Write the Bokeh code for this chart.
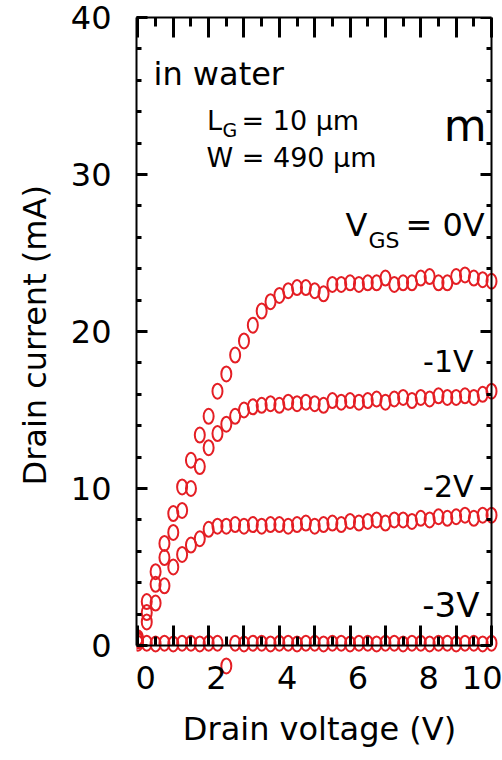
from bokeh.plotting import figure
from bokeh.models import (Range1d, LinearAxis, FixedTicker, Label, Title,
                          ColumnDataSource, CustomJSTickFormatter)
from bokeh.embed import file_html
from bokeh.resources import INLINE

# ---------------- data ----------------
drain_voltage = [0.0, 0.25, 0.5, 0.75, 1.0, 1.25, 1.5, 1.75, 2.0, 2.25,
                 2.5, 2.75, 3.0, 3.25, 3.5, 3.75, 4.0, 4.25, 4.5, 4.75,
                 5.0, 5.25, 5.5, 5.75, 6.0, 6.25, 6.5, 6.75, 7.0, 7.25,
                 7.5, 7.75, 8.0, 8.25, 8.5, 8.75, 9.0, 9.25, 9.5, 9.75, 10.0]

current_vgs_0 = [0.5, 2.8, 4.7, 6.5, 8.4, 10.1, 11.8, 13.4, 14.6, 16.2,
                 17.3, 18.5, 19.4, 20.4, 21.3, 21.9, 22.3, 22.6, 22.8, 22.8,
                 22.6, 22.4, 23.0, 23.0, 23.1, 23.0, 23.1, 23.1, 23.4, 23.0,
                 23.1, 23.1, 23.4, 23.5, 23.1, 23.1, 23.5, 23.6, 23.4, 23.3, 23.2]

current_vgs_m1 = [0.4, 2.1, 3.9, 5.6, 7.2, 8.6, 10.0, 11.4, 12.6, 13.5,
                  14.1, 14.6, 15.0, 15.2, 15.3, 15.4, 15.3, 15.5, 15.4, 15.5,
                  15.4, 15.3, 15.6, 15.5, 15.6, 15.5, 15.6, 15.7, 15.5, 15.7,
                  15.8, 15.6, 15.8, 15.7, 15.9, 15.8, 15.8, 15.9, 15.8, 16.0, 16.2]

current_vgs_m2 = [0.3, 1.5, 2.7, 3.8, 5.0, 5.8, 6.4, 6.8, 7.4, 7.6,
                  7.6, 7.7, 7.6, 7.7, 7.6, 7.7, 7.7, 7.6, 7.7, 7.8,
                  7.6, 7.7, 7.8, 7.7, 7.9, 7.8, 7.9, 8.0, 7.8, 8.0,
                  8.0, 7.9, 8.1, 8.0, 8.2, 8.1, 8.2, 8.3, 8.1, 8.3, 8.3]

current_vgs_m3 = [0.15, 0.15, 0.1, 0.15, 0.1, 0.15, 0.15, 0.1, 0.15, 0.15,
                  -1.3, 0.15, 0.1, 0.15, 0.15, 0.1, 0.15, 0.15, 0.1, 0.15,
                  0.15, 0.1, 0.15, 0.15, 0.1, 0.15, 0.15, 0.1, 0.15, 0.15,
                  0.1, 0.15, 0.15, 0.1, 0.15, 0.15, 0.1, 0.15, 0.15, 0.1, 0.15]

x_tick_labels = [0, 2, 4, 6, 8, 10]
x_major_ticks = [0, 1, 2, 3, 4, 5, 6, 7, 8, 9, 10]
x_minor_ticks = [0.5, 1.5, 2.5, 3.5, 4.5, 5.5, 6.5, 7.5, 8.5, 9.5]
y_major_ticks = [0, 10, 20, 30, 40]
y_minor_ticks = [2, 4, 6, 8, 12, 14, 16, 18, 22, 24, 26, 28, 32, 34, 36, 38]

# ---------------- figure ----------------
FONT = "DejaVu Sans"
RED = "#e41e24"
W, H = 502, 760
ML, MR, MT, MB = 136, 0, 17, 5
PX_PER_V = 35.36
PX_PER_MA = 15.70
X0 = -0.04
X1 = X0 + (W - ML - MR) / PX_PER_V
Y1 = 40.0
Y0 = Y1 - (H - MT - MB) / PX_PER_MA
XEND = 10.0

p = figure(width=W, height=H, x_range=Range1d(X0, X1), y_range=Range1d(Y0, Y1),
           output_backend="svg", toolbar_location=None,
           x_axis_location=None, y_axis_location=None,
           min_border_left=ML, min_border_right=MR, min_border_top=MT, min_border_bottom=MB)
p.outline_line_color = None
p.background_fill_color = "white"
p.border_fill_color = "white"
p.xgrid.grid_line_color = None
p.ygrid.grid_line_color = None

BLANK = CustomJSTickFormatter(code="return ''")


def style(ax, tick_in, minor_in):
    ax.axis_line_width = 2
    ax.axis_line_color = "black"
    ax.major_tick_in = tick_in
    ax.major_tick_out = 0
    ax.minor_tick_in = minor_in
    ax.minor_tick_out = 0
    ax.major_tick_line_width = 3
    ax.minor_tick_line_width = 3
    ax.major_tick_line_color = "black"
    ax.minor_tick_line_color = "black"
    ax.major_label_text_font = FONT
    ax.major_label_text_font_size = "32px"
    ax.major_label_text_color = "black"
    ax.axis_label_text_font = FONT
    ax.axis_label_text_font_size = "32px"
    ax.axis_label_text_font_style = "normal"
    ax.axis_label_text_color = "black"


# bottom axis: line and inward ticks at I = 0
xb = LinearAxis(ticker=FixedTicker(ticks=x_major_ticks, minor_ticks=x_minor_ticks),
                fixed_location=0, bounds=(X0, XEND), formatter=BLANK)
style(xb, 20, 9)
p.add_layout(xb, "below")

# bottom labels (drawn slightly to the right of the ticks, as in the original)
p.extra_x_ranges = {"lab": Range1d(X0 - 0.22, X1 - 0.22)}
xl = LinearAxis(x_range_name="lab", ticker=FixedTicker(ticks=x_tick_labels, minor_ticks=[]),
                fixed_location=0, axis_label="Drain voltage (V)")
style(xl, 0, 0)
xl.axis_line_color = None
xl.major_tick_line_color = None
xl.minor_tick_line_color = None
xl.major_label_standoff = 20
xl.axis_label_standoff = 18
p.add_layout(xl, "below")

# top axis
xt = LinearAxis(ticker=FixedTicker(ticks=x_major_ticks, minor_ticks=x_minor_ticks),
                bounds=(X0, XEND), formatter=BLANK)
style(xt, 20, 9)
xt.major_label_standoff = 0
p.add_layout(xt, "above")

# left axis
yl = LinearAxis(ticker=FixedTicker(ticks=y_major_ticks, minor_ticks=y_minor_ticks), bounds=(0, 40))
style(yl, 11, 5)
yl.major_label_standoff = 25
p.add_layout(yl, "left")

# right axis (at V = 10)
yr = LinearAxis(ticker=FixedTicker(ticks=y_major_ticks, minor_ticks=y_minor_ticks), bounds=(0, 40),
                fixed_location=XEND, formatter=BLANK)
style(yr, 11, 5)
yr.major_label_standoff = 0
p.add_layout(yr, "right")

# y-axis title
p.add_layout(Title(text="Drain current (mA)", align="left", offset=270, standoff=27,
                   text_font=FONT, text_font_size="32px", text_font_style="normal",
                   text_color="black"), "left")

# ---------------- data markers ----------------
for cur in (current_vgs_m3, current_vgs_m2, current_vgs_m1, current_vgs_0):
    src = ColumnDataSource(dict(x=drain_voltage, y=cur))
    p.ellipse(x="x", y="y", width=10, height=15, width_units="screen", height_units="screen",
              source=src, fill_color=None, line_color=RED, line_width=2)


# ---------------- annotations ----------------
def dx(px):
    return X0 + (px - ML) / PX_PER_V


def dy(py):
    return Y1 - (py - MT) / PX_PER_MA


SHIFT = 0.38  # baseline correction, in em


def lab(text, px, py, size, align="left"):
    p.add_layout(Label(x=dx(px), y=dy(py - SHIFT * size), text=text, text_font=FONT,
                       text_font_size=f"{size}px", text_align=align,
                       text_baseline="alphabetic", text_color="black"))


lab("in water", 153, 86, 32)
lab("L", 206.5, 130, 27)
lab("G", 222, 137, 19)
lab("= 10 μm", 241, 130, 27)
lab("W = 490 μm", 206, 167, 27)
lab("m", 486, 142, 44, "right")
lab("V", 345, 237, 32)
lab("GS", 368, 248, 22)
lab("= 0V", 405, 237, 32)
lab("-1V", 473, 372, 30, "right")
lab("-2V", 473, 497, 30, "right")
lab("-3V", 479, 617, 34, "right")

open("out.html", "w").write(file_html(p, INLINE))
